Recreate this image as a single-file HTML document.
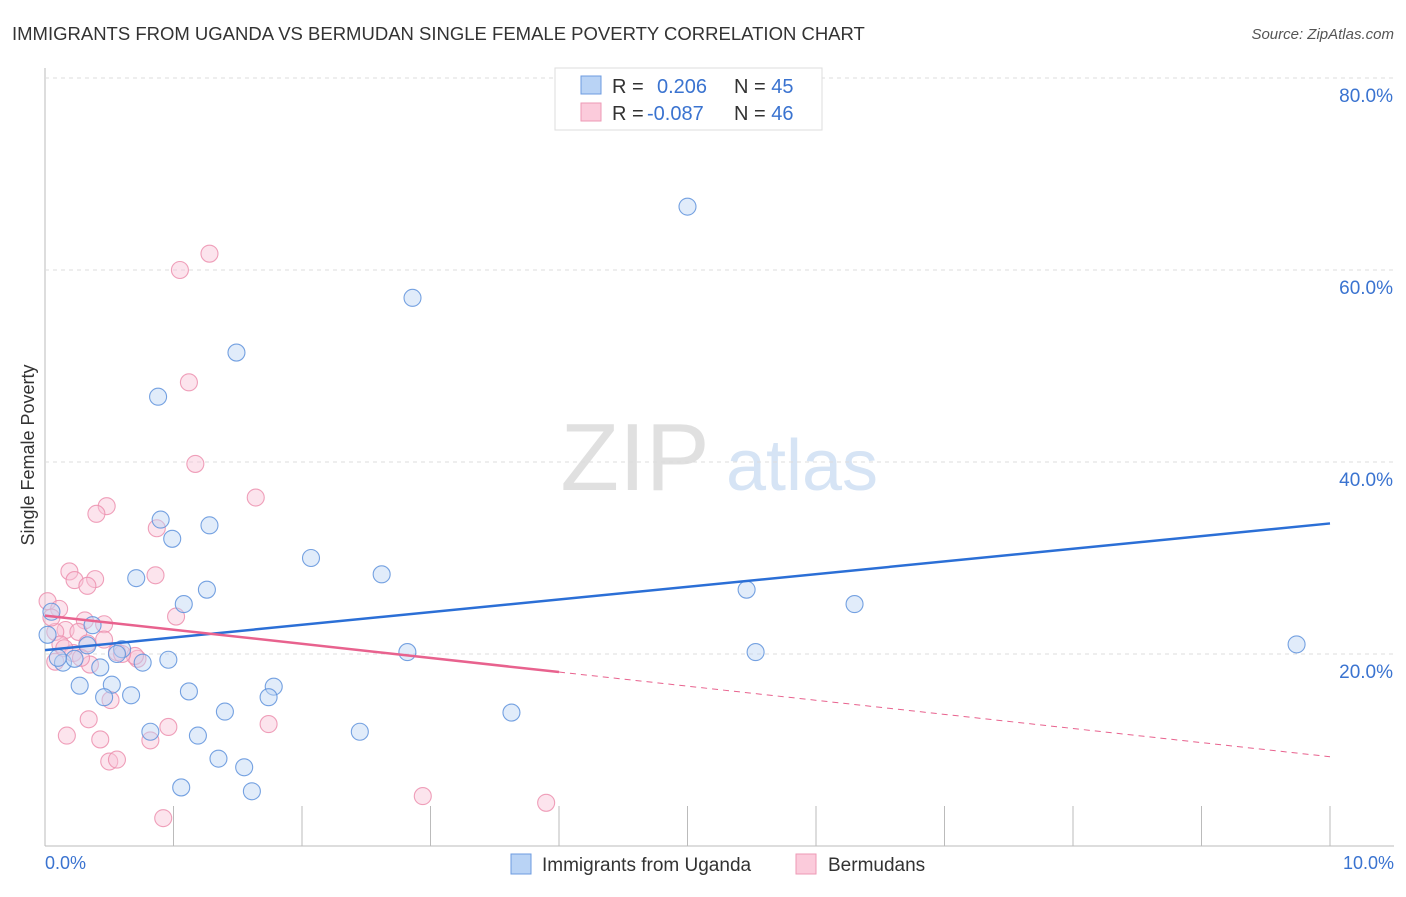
<!DOCTYPE html>
<html><head><meta charset="utf-8"><style>
body{margin:0;background:#fff;font-family:"Liberation Sans",sans-serif}
svg text{font-family:"Liberation Sans",sans-serif}
</style></head><body>
<svg id="c" width="1406" height="892">
<text x="12" y="40" font-size="18.5" fill="#333">IMMIGRANTS FROM UGANDA VS BERMUDAN SINGLE FEMALE POVERTY CORRELATION CHART</text>
<text x="1394" y="39" font-size="15" fill="#555" text-anchor="end" font-style="italic">Source: ZipAtlas.com</text>
<g><text x="635" y="490" font-size="96" fill="#e0e0e0" text-anchor="middle" font-family="Liberation Serif">ZIP</text><text x="802" y="490" font-size="72" fill="#d6e4f5" text-anchor="middle">atlas</text></g>
<g id="grid"></g><g id="marks"></g>
<text transform="translate(34,455) rotate(-90)" font-size="18" fill="#333" text-anchor="middle">Single Female Poverty</text>
<text x="45" y="869" font-size="18" fill="#3a73d0">0.0%</text>
<text x="1394" y="869" font-size="18" fill="#3a73d0" text-anchor="end">10.0%</text>
<g>
<rect x="555" y="68" width="267" height="62" fill="#fff" stroke="#ddd"/>
<rect x="581" y="76" width="20" height="18" fill="#b9d3f5" stroke="#6d9be0"/>
<rect x="581" y="103" width="20" height="18" fill="#fbcbdb" stroke="#ee9ab6"/>
<text x="612" y="93" font-size="20" fill="#333">R = <tspan x="657" fill="#3a73d0">0.206</tspan><tspan x="734">N = </tspan><tspan fill="#3a73d0">45</tspan></text>
<text x="612" y="120" font-size="20" fill="#333">R = <tspan x="647" fill="#3a73d0">-0.087</tspan><tspan x="734">N = </tspan><tspan fill="#3a73d0">46</tspan></text>
</g>
<g>
<rect x="511" y="854" width="20" height="20" fill="#b9d3f5" stroke="#6d9be0"/>
<text x="542" y="871" font-size="19" fill="#333">Immigrants from Uganda</text>
<rect x="796" y="854" width="20" height="20" fill="#fbcbdb" stroke="#ee9ab6"/>
<text x="828" y="871" font-size="19" fill="#333">Bermudans</text>
</g>
</svg>
<script>
const yTicks=[20,40,60,80];
const xTicks=[0,1,2,3,4,5,6,7,8,9,10];
const ugX=[5.00,2.86,1.49,0.88,0.90,1.28,0.99,2.07,2.62,0.71,1.26,1.08,5.46,6.30,9.74,5.53,2.82,0.05,0.37,0.33,0.60,0.14,0.23,0.56,0.76,0.96,0.43,0.27,0.52,0.46,0.67,1.12,1.78,1.74,1.40,3.63,0.82,1.19,2.45,1.35,1.55,1.06,1.61,0.02,0.10];
const ugY=[66.6,57.1,51.4,46.8,34.0,33.4,32.0,30.0,28.3,27.9,26.7,25.2,26.7,25.2,21.0,20.2,20.2,24.4,23.0,20.9,20.5,19.1,19.5,20.0,19.1,19.4,18.6,16.7,16.8,15.5,15.7,16.1,16.6,15.5,14.0,13.9,11.9,11.5,11.9,9.1,8.2,6.1,5.7,22.0,19.6];
const bmX=[1.28,1.05,1.12,1.17,1.64,0.48,0.40,0.87,0.19,0.86,0.39,0.23,0.33,0.02,0.11,1.02,0.31,0.46,0.16,0.26,0.08,0.46,0.33,0.56,0.72,0.08,0.35,0.51,0.34,0.96,1.74,0.17,0.43,0.82,0.50,0.56,0.92,2.94,3.90,0.70,0.05,0.12,0.22,0.60,0.28,0.15];
const bmY=[61.7,60.0,48.3,39.8,36.3,35.4,34.6,33.1,28.6,28.2,27.8,27.7,27.1,25.5,24.7,23.9,23.5,23.1,22.5,22.3,22.3,21.5,21.1,20.2,19.5,19.2,18.9,15.2,13.2,12.4,12.7,11.5,11.1,11.0,8.8,9.0,2.9,5.2,4.5,19.8,23.8,21.0,20.1,20.0,19.6,20.6];
const ugTrend=[20.4,33.6];
const bmTrend=[24.0,9.3];
const bmSolidEnd=4.0;
const X=v=>45+v*128.5, Y=v=>846-v*9.6;
const NS='http://www.w3.org/2000/svg';
function mk(p,t,a){const e=document.createElementNS(NS,t);for(const k in a)e.setAttribute(k,a[k]);p.appendChild(e);return e;}
const g=document.getElementById('grid'),m=document.getElementById('marks');
let ax=mk(g,'line',{x1:45,y1:68,x2:45,y2:846,stroke:'#bbb'});


let bx=mk(g,'line',{x1:45,y1:846,x2:1394,y2:846,stroke:'#bbb'});


yTicks.forEach(t=>{
 const l=mk(g,'line',{x1:45,y1:Y(t),x2:1394,y2:Y(t),stroke:'#ddd','stroke-dasharray':'4,4'});
 
 
 const tx=mk(g,'text',{x:1393,y:Y(t)+24,'font-size':19,fill:'#3a73d0','text-anchor':'end'});tx.textContent=t.toFixed(1)+'%';
 
 
});
xTicks.forEach(t=>{
 const l=mk(g,'line',{x1:X(t),y1:806,x2:X(t),y2:846,stroke:'#bbb'});
 
 
});
function dots(xs,ys,fill,stroke,name){xs.forEach((v,i)=>{
 const c=mk(m,'circle',{cx:X(v),cy:Y(ys[i]),r:8.5,fill:fill,'fill-opacity':0.45,stroke:stroke,'stroke-width':1.1,'stroke-opacity':0.85});
 
 
});}
dots(bmX,bmY,'#f9c4d6','#ec8fae','bermudan-point');
dots(ugX,ugY,'#bcd5f5','#5e92dc','uganda-point');
let l1=mk(m,'line',{x1:X(0),y1:Y(ugTrend[0]),x2:X(10),y2:Y(ugTrend[1]),stroke:'#2b6fd6','stroke-width':2.5});


const bAt=v=>bmTrend[0]+(bmTrend[1]-bmTrend[0])*v/10;
let l2=mk(m,'line',{x1:X(0),y1:Y(bmTrend[0]),x2:X(bmSolidEnd),y2:Y(bAt(bmSolidEnd)),stroke:'#e8628e','stroke-width':2.5});


let l3=mk(m,'line',{x1:X(bmSolidEnd),y1:Y(bAt(bmSolidEnd)),x2:X(10),y2:Y(bmTrend[1]),stroke:'#e8628e','stroke-width':1,'stroke-dasharray':'6,5'});


</script>
</body></html>
